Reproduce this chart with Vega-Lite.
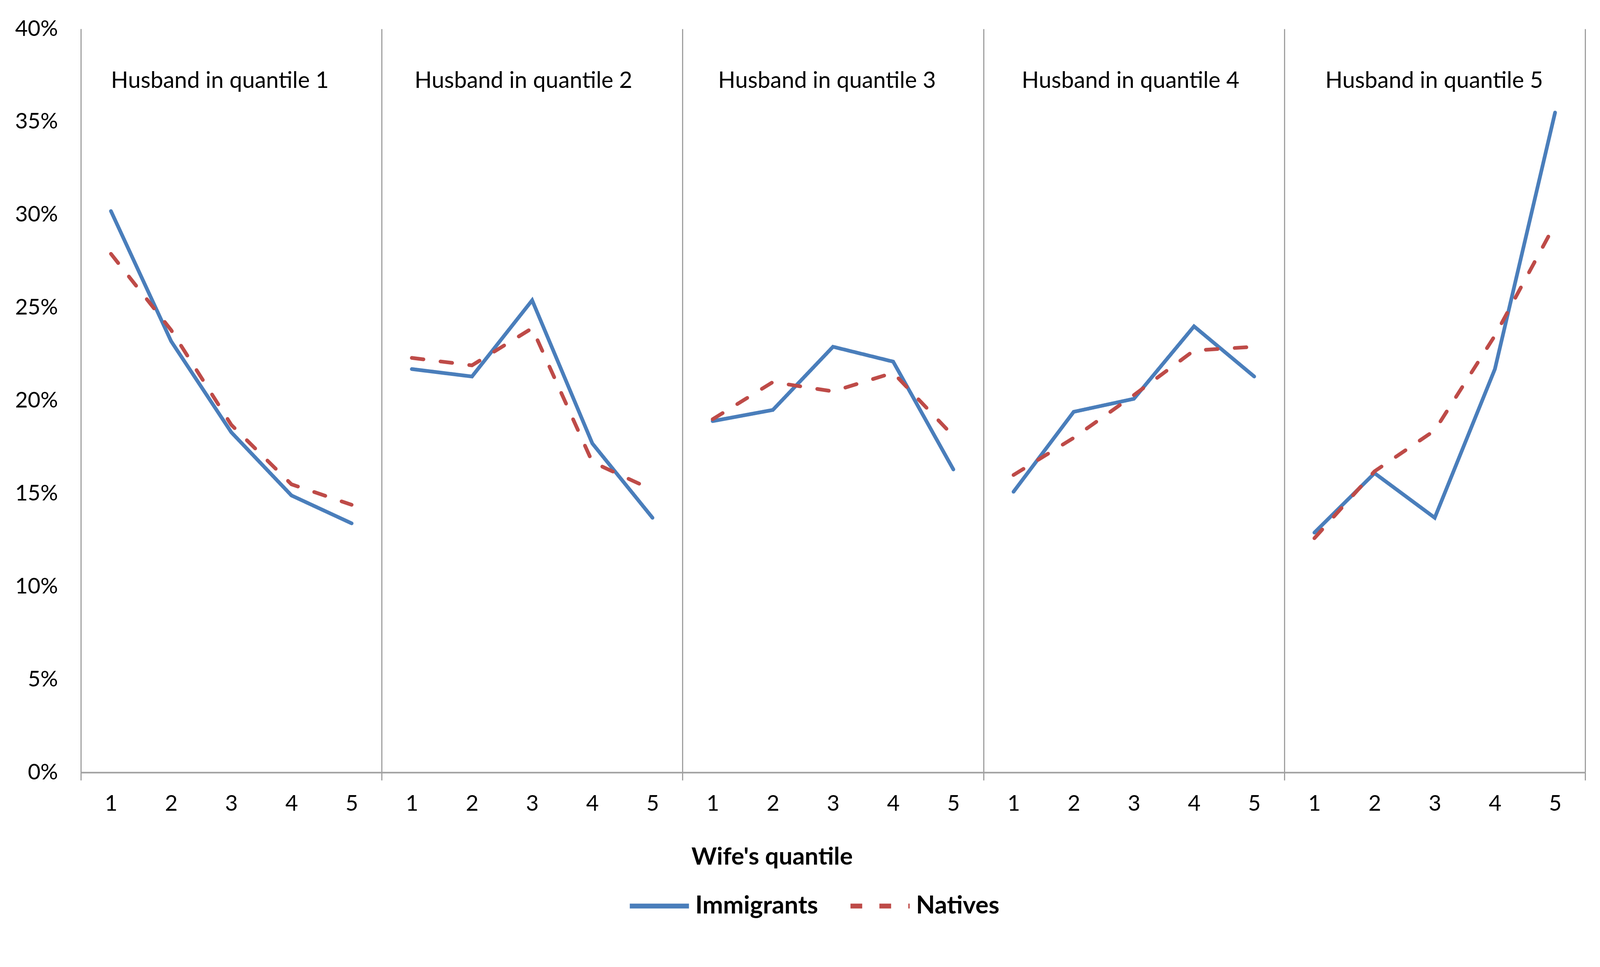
{
  "$schema": "https://vega.github.io/schema/vega-lite/v6.json",
  "width": 3851,
  "height": 1903,
  "autosize": {"type": "none"},
  "padding": {"left": 207, "top": 74, "right": 38, "bottom": 412},
  "background": "white",
  "config": {"view": {"stroke": null}, "font": "Lato"},
  "datasets": {
    "series": [
      {"husband": 1, "wife": 1, "group": "Immigrants", "share": 0.302},
      {"husband": 1, "wife": 2, "group": "Immigrants", "share": 0.232},
      {"husband": 1, "wife": 3, "group": "Immigrants", "share": 0.183},
      {"husband": 1, "wife": 4, "group": "Immigrants", "share": 0.149},
      {"husband": 1, "wife": 5, "group": "Immigrants", "share": 0.134},
      {"husband": 2, "wife": 1, "group": "Immigrants", "share": 0.217},
      {"husband": 2, "wife": 2, "group": "Immigrants", "share": 0.213},
      {"husband": 2, "wife": 3, "group": "Immigrants", "share": 0.254},
      {"husband": 2, "wife": 4, "group": "Immigrants", "share": 0.177},
      {"husband": 2, "wife": 5, "group": "Immigrants", "share": 0.137},
      {"husband": 3, "wife": 1, "group": "Immigrants", "share": 0.189},
      {"husband": 3, "wife": 2, "group": "Immigrants", "share": 0.195},
      {"husband": 3, "wife": 3, "group": "Immigrants", "share": 0.229},
      {"husband": 3, "wife": 4, "group": "Immigrants", "share": 0.221},
      {"husband": 3, "wife": 5, "group": "Immigrants", "share": 0.163},
      {"husband": 4, "wife": 1, "group": "Immigrants", "share": 0.151},
      {"husband": 4, "wife": 2, "group": "Immigrants", "share": 0.194},
      {"husband": 4, "wife": 3, "group": "Immigrants", "share": 0.201},
      {"husband": 4, "wife": 4, "group": "Immigrants", "share": 0.240},
      {"husband": 4, "wife": 5, "group": "Immigrants", "share": 0.213},
      {"husband": 5, "wife": 1, "group": "Immigrants", "share": 0.129},
      {"husband": 5, "wife": 2, "group": "Immigrants", "share": 0.161},
      {"husband": 5, "wife": 3, "group": "Immigrants", "share": 0.137},
      {"husband": 5, "wife": 4, "group": "Immigrants", "share": 0.217},
      {"husband": 5, "wife": 5, "group": "Immigrants", "share": 0.355},
      {"husband": 1, "wife": 1, "group": "Natives", "share": 0.279},
      {"husband": 1, "wife": 2, "group": "Natives", "share": 0.238},
      {"husband": 1, "wife": 3, "group": "Natives", "share": 0.187},
      {"husband": 1, "wife": 4, "group": "Natives", "share": 0.155},
      {"husband": 1, "wife": 5, "group": "Natives", "share": 0.144},
      {"husband": 2, "wife": 1, "group": "Natives", "share": 0.223},
      {"husband": 2, "wife": 2, "group": "Natives", "share": 0.219},
      {"husband": 2, "wife": 3, "group": "Natives", "share": 0.239},
      {"husband": 2, "wife": 4, "group": "Natives", "share": 0.167},
      {"husband": 2, "wife": 5, "group": "Natives", "share": 0.152},
      {"husband": 3, "wife": 1, "group": "Natives", "share": 0.190},
      {"husband": 3, "wife": 2, "group": "Natives", "share": 0.210},
      {"husband": 3, "wife": 3, "group": "Natives", "share": 0.205},
      {"husband": 3, "wife": 4, "group": "Natives", "share": 0.215},
      {"husband": 3, "wife": 5, "group": "Natives", "share": 0.181},
      {"husband": 4, "wife": 1, "group": "Natives", "share": 0.160},
      {"husband": 4, "wife": 2, "group": "Natives", "share": 0.180},
      {"husband": 4, "wife": 3, "group": "Natives", "share": 0.203},
      {"husband": 4, "wife": 4, "group": "Natives", "share": 0.227},
      {"husband": 4, "wife": 5, "group": "Natives", "share": 0.229},
      {"husband": 5, "wife": 1, "group": "Natives", "share": 0.126},
      {"husband": 5, "wife": 2, "group": "Natives", "share": 0.162},
      {"husband": 5, "wife": 3, "group": "Natives", "share": 0.184},
      {"husband": 5, "wife": 4, "group": "Natives", "share": 0.235},
      {"husband": 5, "wife": 5, "group": "Natives", "share": 0.295}
    ],
    "panels": [
      {"husband": 1, "title": "Husband in quantile 1"},
      {"husband": 2, "title": "Husband in quantile 2"},
      {"husband": 3, "title": "Husband in quantile 3"},
      {"husband": 4, "title": "Husband in quantile 4"},
      {"husband": 5, "title": "Husband in quantile 5"}
    ]
  },
  "layer": [
    {
      "data": {"name": "series"},
      "transform": [{"calculate": "(datum.husband - 1) * 5 + datum.wife", "as": "pos"}],
      "mark": {"type": "line", "strokeWidth": 9.5, "strokeCap": "round"},
      "encoding": {
        "x": {
          "field": "pos",
          "type": "quantitative",
          "scale": {"domain": [0.5, 25.5], "nice": false, "zero": false},
          "axis": {
            "values": [0.5, 1, 2, 3, 4, 5, 5.5, 6, 7, 8, 9, 10, 10.5, 11, 12, 13, 14, 15, 15.5, 16, 17, 18, 19, 20, 20.5, 21, 22, 23, 24, 25, 25.5],
            "title": "Wife's quantile",
            "titleFont": "Lato",
            "titleFontSize": 62,
            "titleFontWeight": "bold",
            "titleColor": "black",
            "titleX": 1769,
            "titleY": 216,
            "titleBaseline": "middle",
            "titleAlign": "center",
            "labelExpr": "datum.value % 1 === 0 ? '' + ((datum.value - 1) % 5 + 1) : ''",
            "labelFont": "Lato",
            "labelFontSize": 56,
            "labelColor": "black",
            "labelPadding": 33,
            "labelFlush": false,
            "labelOverlap": false,
            "domainColor": "#A0A0A0",
            "domainWidth": 4,
            "ticks": true,
            "tickSize": 20,
            "tickWidth": 3,
            "tickColor": {"condition": {"test": "datum.value % 1 !== 0", "value": "#A0A0A0"}, "value": "transparent"},
            "grid": true,
            "gridWidth": 3,
            "gridColor": {"condition": {"test": "datum.value % 1 !== 0", "value": "#A0A0A0"}, "value": "transparent"}
          }
        },
        "y": {
          "field": "share",
          "type": "quantitative",
          "scale": {"domain": [0, 0.4], "nice": false},
          "axis": {
            "values": [0, 0.05, 0.1, 0.15, 0.2, 0.25, 0.3, 0.35, 0.4],
            "format": ".0%",
            "title": null,
            "ticks": false,
            "grid": false,
            "domainColor": "#A0A0A0",
            "domainWidth": 3,
            "labelFont": "Lato",
            "labelFontSize": 56,
            "labelColor": "black",
            "labelPadding": 59,
            "labelFlush": false
          }
        },
        "detail": {"field": "husband"},
        "color": {
          "field": "group",
          "type": "nominal",
          "scale": {"domain": ["Immigrants", "Natives"], "range": ["#4A7EBB", "#BE4B48"]},
          "legend": {
            "orient": "none", "legendX": 1399, "legendY": 2163, "direction": "horizontal", "title": null,
            "symbolType": "stroke", "symbolSize": 22952, "symbolStrokeWidth": 12.5,
            "labelFont": "Lato", "labelFontSize": 63, "labelFontWeight": "bold", "labelColor": "black",
            "labelOffset": 10, "columnPadding": 57, "labelLimit": 0
          }
        },
        "strokeDash": {
          "field": "group",
          "type": "nominal",
          "scale": {"domain": ["Immigrants", "Natives"], "range": [[1, 0], [30, 44]]},
          "legend": {
            "orient": "none", "legendX": 1399, "legendY": 2163, "direction": "horizontal", "title": null,
            "symbolType": "stroke", "symbolSize": 22952, "symbolStrokeWidth": 12.5,
            "labelFont": "Lato", "labelFontSize": 63, "labelFontWeight": "bold", "labelColor": "black",
            "labelOffset": 10, "columnPadding": 57, "labelLimit": 0
          }
        }
      }
    },
    {
      "data": {"name": "panels"},
      "transform": [{"calculate": "(datum.husband - 1) * 5.045 + 2.81", "as": "pos"}],
      "mark": {"type": "text", "font": "Lato", "fontSize": 58, "color": "black", "align": "center", "baseline": "middle"},
      "encoding": {
        "x": {"field": "pos", "type": "quantitative"},
        "y": {"datum": 0.3718},
        "text": {"field": "title"}
      }
    }
  ]
}
